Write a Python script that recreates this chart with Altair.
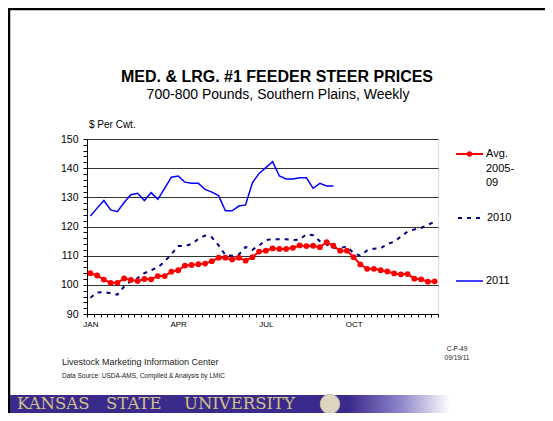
import altair as alt
import pandas as pd

# ---------------- data ----------------
weeks = list(range(1, 53))
avg_0509 = [104.0, 103.2, 101.8, 100.7, 100.7, 102.2, 101.7, 101.3, 102.0, 101.9,
            103.0, 103.0, 104.5, 105.0, 106.6, 106.8, 107.1, 107.3, 108.1, 109.3,
            109.3, 108.7, 109.3, 108.3, 109.5, 111.4, 111.7, 112.5, 112.3, 112.3,
            112.7, 113.5, 113.3, 113.4, 112.9, 114.6, 113.4, 111.7, 111.7, 109.5,
            107.0, 105.5, 105.5, 105.0, 104.6, 103.9, 103.6, 103.7, 102.1, 101.9,
            101.1, 101.2]
y2010 = [95.6, 97.4, 97.5, 97.1, 96.6, 99.4, 101.3, 102.3, 104.0, 105.0,
         106.0, 108.0, 110.5, 113.3, 113.3, 114.0, 115.7, 116.9, 116.3, 113.5,
         110.2, 110.0, 110.4, 113.0, 112.0, 113.5, 115.3, 115.7, 115.6, 115.6,
         115.4, 115.5, 117.3, 117.0, 115.0, 113.8, 112.7, 112.6, 113.2, 110.8,
         110.0, 111.8, 112.4, 112.5, 114.0, 114.8, 116.5, 118.3, 119.0, 119.5,
         120.6, 121.6]
weeks_2011 = list(range(1, 38))
y2011 = [123.6, 126.3, 128.9, 125.7, 125.1, 128.2, 130.9, 131.4, 128.9, 131.6,
         129.3, 133.1, 136.9, 137.3, 135.2, 134.8, 134.8, 132.7, 131.8, 130.6,
         125.4, 125.4, 127.0, 127.4, 135.0, 138.2, 140.2, 142.2, 137.3, 136.3,
         136.3, 136.7, 136.7, 133.1, 134.8, 133.9, 133.9]
month_labels = ["JAN", "APR", "JUL", "OCT"]
month_weeks = [1, 14, 27, 40]
y_ticks = list(range(90, 151, 2))
legend_avg_lines = ["Avg.", "2005-", "09"]
legend_2010 = "2010"
legend_2011 = "2011"

title_text = "MED. & LRG. #1 FEEDER STEER PRICES"
subtitle_text = "700-800 Pounds, Southern Plains, Weekly"
ylab_text = "$ Per Cwt."
footer1 = "Livestock Marketing Information Center"
footer2 = "Data Source:  USDA-AMS, Compiled & Analysis by LMIC"
code1 = "C-P-49"
code2 = "09/19/11"
banner_words = ["KANSAS", "STATE", "UNIVERSITY"]

FONT = "Liberation Sans"

avg_df = pd.DataFrame({"week": weeks, "price": avg_0509})
d10 = pd.DataFrame({"week": weeks, "price": y2010})
d11 = pd.DataFrame({"week": weeks_2011, "price": y2011})
one = pd.DataFrame({"k": [0]})

label_expr = "".join(
    f"datum.value == {w - 0.5} ? '{m}' : " for m, w in zip(month_labels, month_weeks)
) + "''"

x_enc = alt.X(
    "week:Q",
    scale=alt.Scale(domain=[0.5, 52.5], nice=False, zero=False),
    axis=alt.Axis(
        values=[w + 0.5 for w in range(0, 53)], labelExpr=label_expr,
        labelOffset=3.375, labelOverlap=False, labelFlush=False, labelBound=False,
        tickSize=3, labelFontSize=8, labelPadding=3, grid=False, title=None,
        domainColor="#000", tickColor="#000", labelColor="#000", labelFont=FONT,
        labelAngle=0,
    ),
)
y_enc = alt.Y(
    "price:Q",
    scale=alt.Scale(domain=[90, 150], nice=False, zero=False),
    axis=alt.Axis(
        values=y_ticks, labelExpr="datum.value % 10 == 0 ? datum.label : ''",
        tickSize=4, labelPadding=5, labelFontSize=10.5, labelFont=FONT,
        labelColor="#000", domainColor="#000", tickColor="#000", grid=True,
        gridColor="#333", gridWidth=1,
        gridOpacity={"condition": {"test": "datum.value % 10 == 0", "value": 1}, "value": 0},
        title=None, labelOverlap=False,
    ),
)

l2010 = alt.Chart(d10).mark_line(color="#000080", strokeWidth=2, strokeDash=[4, 5]).encode(x=x_enc, y=y_enc)
lavg = alt.Chart(avg_df).mark_line(color="#ff0000", strokeWidth=2).encode(x=x_enc, y=y_enc)
pavg = alt.Chart(avg_df).mark_circle(color="#ff0000", size=34, opacity=1).encode(x=x_enc, y=y_enc)
l2011 = alt.Chart(d11).mark_line(color="#0000ff", strokeWidth=1.5).encode(x=x_enc, y=y_enc)


def txt(s, x, y, size, weight="normal", align="left", color="#000", font=FONT):
    return alt.Chart(one).mark_text(
        text=s, fontSize=size, fontWeight=weight, align=align, baseline="middle",
        color=color, font=font,
    ).encode(x=alt.value(x), y=alt.value(y))


def rule(x1, x2, y, color, width, dash=None):
    kw = dict(color=color, strokeWidth=width)
    if dash:
        kw["strokeDash"] = dash
    return alt.Chart(one).mark_rule(**kw).encode(x=alt.value(x1), x2=alt.value(x2), y=alt.value(y))


decor = [
    # slide frame
    rule(-79, 458, -130, "#000", 2.5),
    alt.Chart(one).mark_rule(color="#000", strokeWidth=2.5).encode(
        x=alt.value(-78), y=alt.value(-131), y2=alt.value(274)),
    # titles
    txt(title_text, 190, -62, 16, weight="bold", align="center"),
    txt(subtitle_text, 191, -44, 14, align="center"),
    txt(ylab_text, 2, -14, 10),
    # legend
    rule(369, 396, 15, "#ff0000", 2),
    alt.Chart(one).mark_circle(color="#ff0000", size=30, opacity=1).encode(
        x=alt.value(382.5), y=alt.value(15)),
    txt(legend_avg_lines[0], 399, 15, 11),
    txt(legend_avg_lines[1], 399, 30, 11),
    txt(legend_avg_lines[2], 399, 44, 11),
    rule(371, 396, 79, "#000080", 2, [4, 5]),
    txt(legend_2010, 400, 79, 11),
    rule(369, 396, 142, "#0000ff", 1.5),
    txt(legend_2011, 399, 142, 11),
    # footer
    txt(footer1, -25, 223, 9, color="#222"),
    txt(footer2, -25, 237, 6.5, color="#222"),
    txt(code1, 370, 210, 6.5, align="center", color="#222"),
    txt(code2, 370, 219, 6.5, align="center", color="#222"),
    # banner
    alt.Chart(one).mark_rect(
        color=alt.LinearGradient(
            gradient="linear",
            stops=[alt.GradientStop(offset=0, color="#3a2a8c"),
                   alt.GradientStop(offset=0.77, color="#3a2a8c"),
                   alt.GradientStop(offset=0.89, color="#9088cc"),
                   alt.GradientStop(offset=1, color="#ffffff")],
            x1=0, x2=1, y1=0, y2=0,
        )
    ).encode(x=alt.value(-77), x2=alt.value(363), y=alt.value(256), y2=alt.value(274)),
    txt(banner_words[0], -70, 265, 16.5, color="#d2c288", font="DejaVu Serif"),
    txt(banner_words[1], 19, 265, 16.5, color="#d2c288", font="DejaVu Serif"),
    txt(banner_words[2], 97, 265, 16.5, color="#d2c288", font="DejaVu Serif"),
    alt.Chart(one).mark_circle(color="#e6dfc2", size=380, opacity=0.95, stroke="#cfc59c", strokeWidth=1).encode(
        x=alt.value(243), y=alt.value(265)),
]

chart = alt.layer(l2010, lavg, pavg, l2011, *decor).properties(
    width=351, height=175,
    autosize=alt.AutoSizeParams(type="none"),
    padding={"left": 79, "top": 131, "right": 107, "bottom": 99},
).configure_view(stroke="#000", strokeWidth=1).configure(background="white")

chart.save("out.html", embed_options={"renderer": "svg", "actions": False})
